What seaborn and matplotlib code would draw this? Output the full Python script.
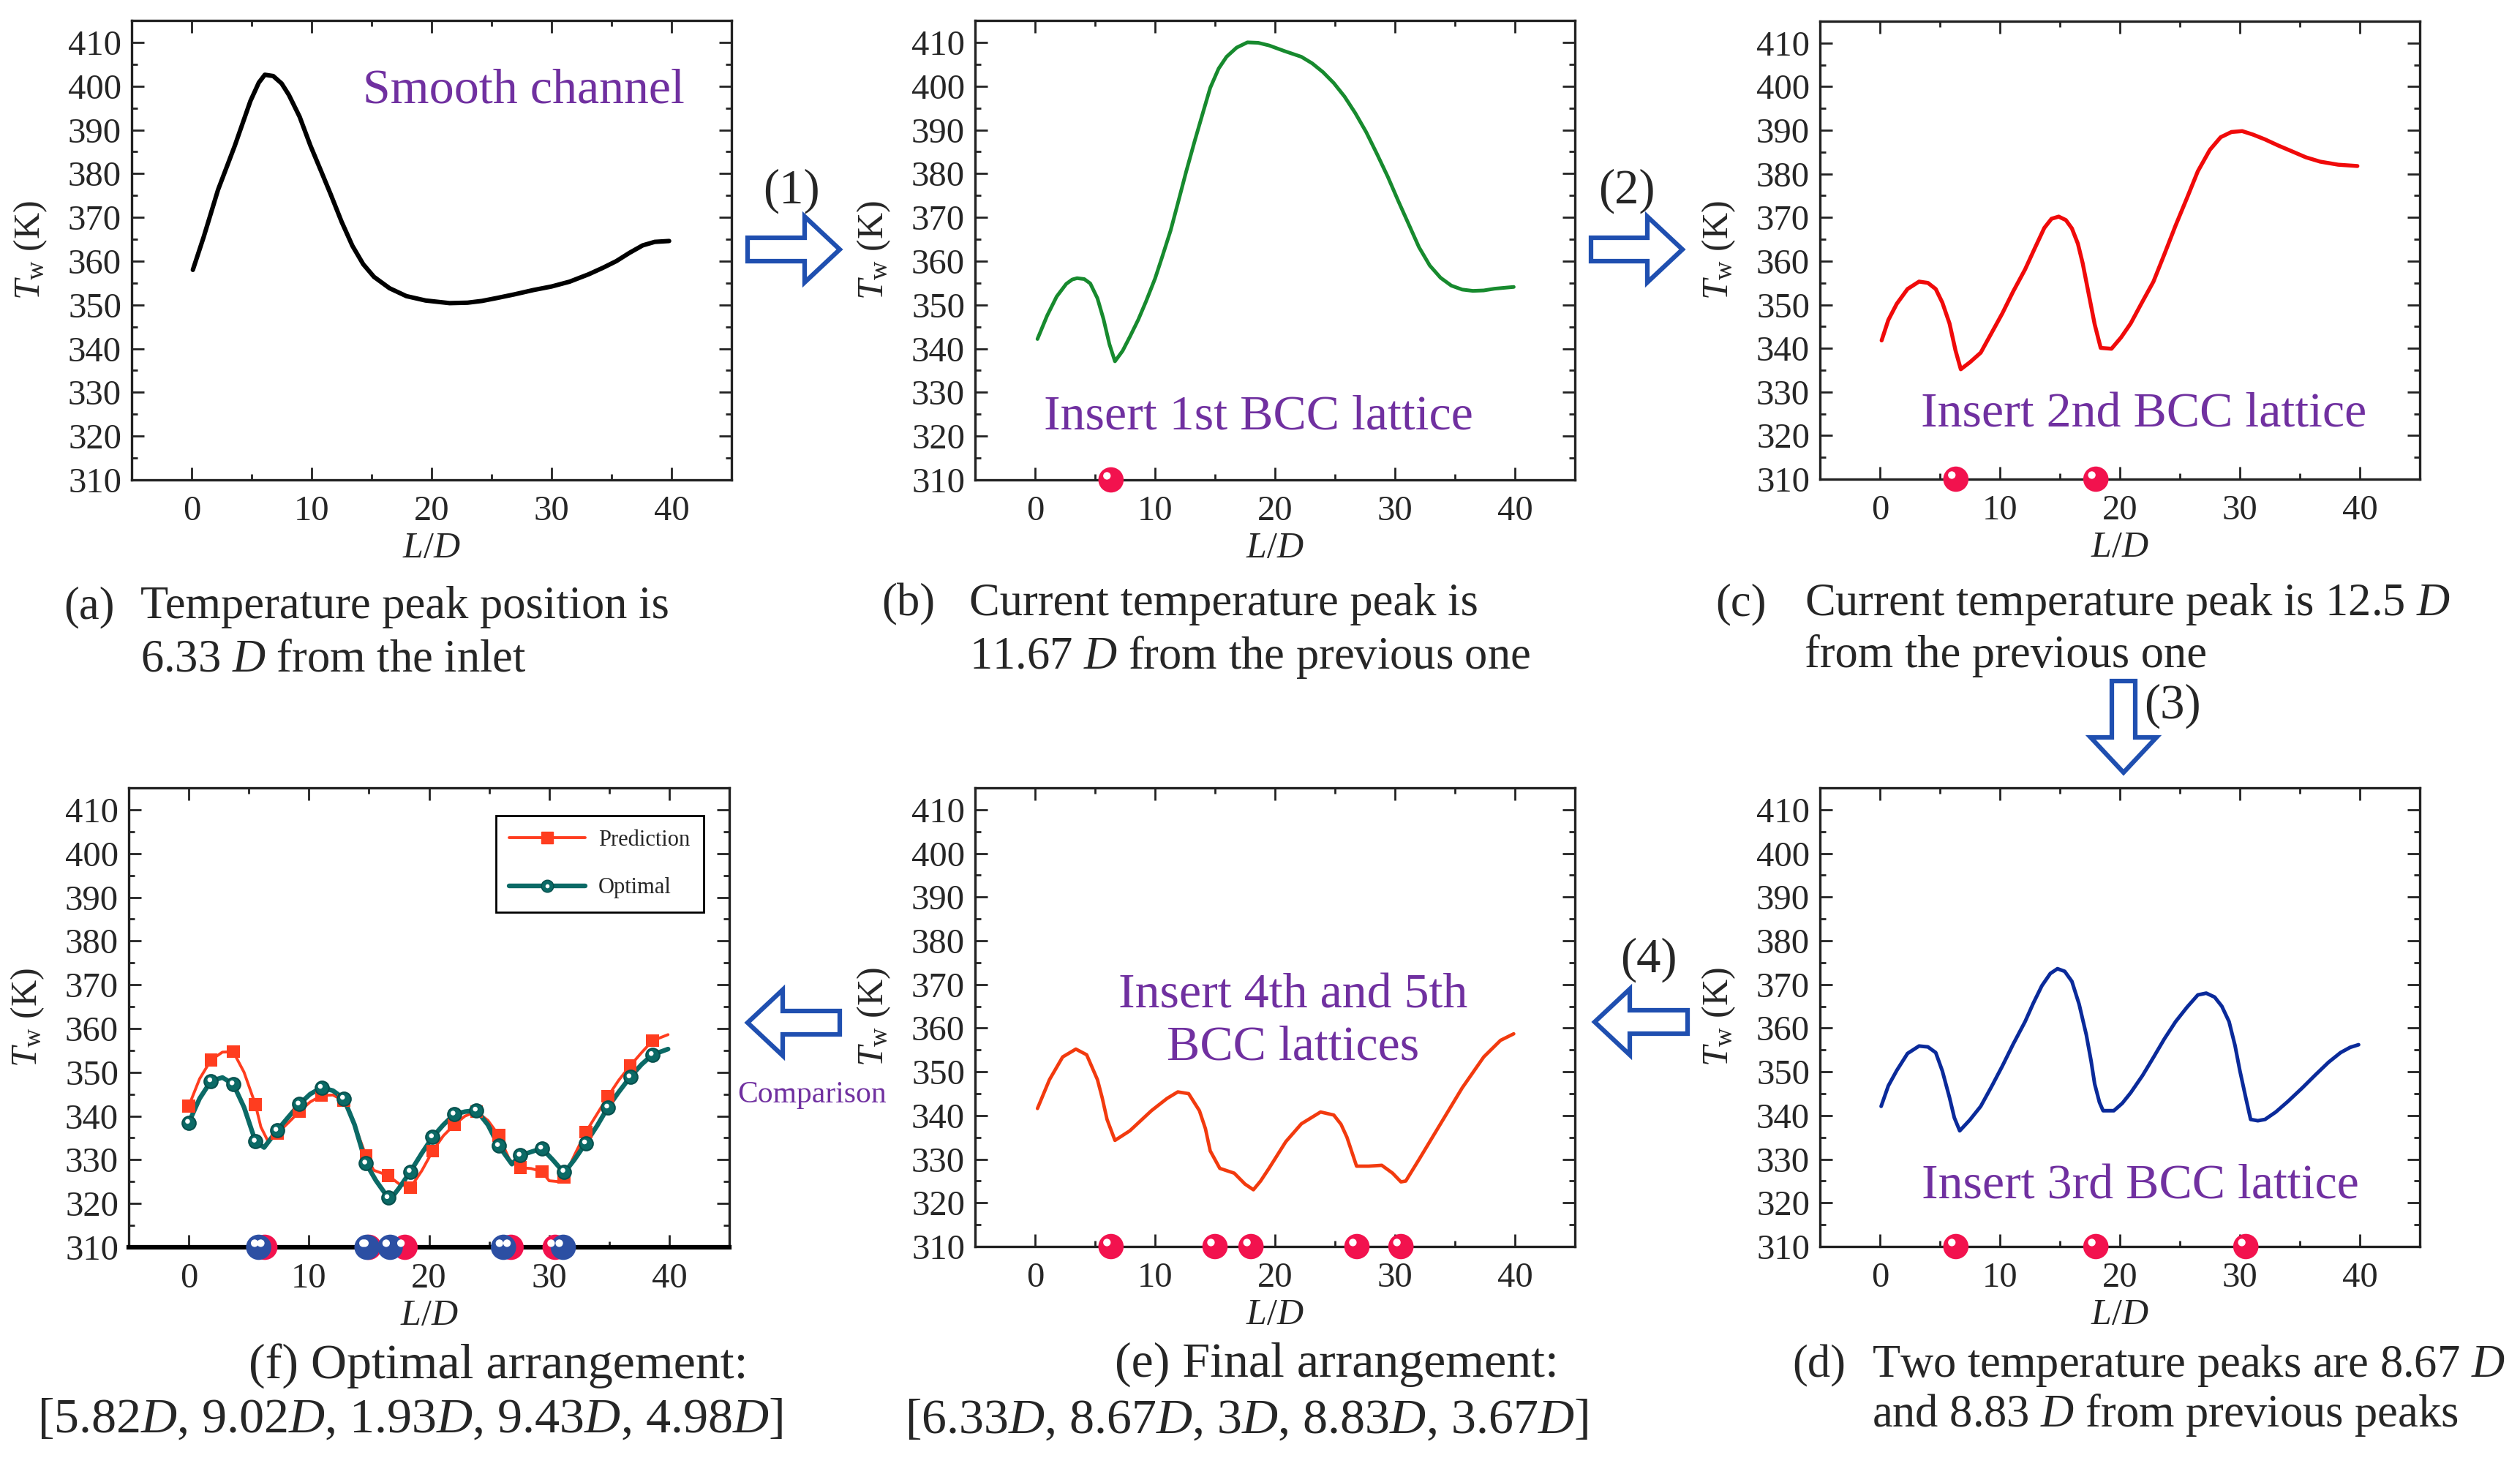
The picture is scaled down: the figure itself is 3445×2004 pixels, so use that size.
import numpy as np
import pandas as pd
import matplotlib
matplotlib.use("Agg")
import matplotlib.pyplot as plt
import seaborn as sns
from matplotlib.patches import FancyArrow
from matplotlib.lines import Line2D
from matplotlib.ticker import MultipleLocator
from matplotlib.transforms import ScaledTranslation

# ---- data (L/D, wall temperature in K) ----
a_x = [0.1, 1.0, 2.2, 3.6, 4.9, 5.6, 6.1, 6.8, 7.5, 8.1, 9.0, 9.9, 10.8, 11.6, 12.5, 13.4,
       14.3, 15.2, 16.5, 17.9, 19.5, 21.5, 23.0, 24.2, 25.5, 26.9, 28.5, 30.0, 31.5, 33.1,
       34.3, 35.4, 36.5, 37.6, 38.6, 39.8]
a_T = [358.0, 365.5, 376.3, 386.4, 396.6, 400.8, 402.6, 402.3, 400.6, 398.0, 393.0, 386.4,
       380.5, 375.2, 369.0, 363.5, 359.3, 356.4, 353.8, 352.0, 351.0, 350.4, 350.5, 350.9,
       351.6, 352.4, 353.4, 354.2, 355.3, 357.0, 358.5, 360.0, 361.9, 363.6, 364.4, 364.6]

b_x = [0.2, 1.0, 1.8, 2.6, 3.1, 3.5, 4.1, 4.6, 5.2, 5.7, 6.2, 6.66, 7.3, 7.9, 8.6, 9.25, 10.0,
       10.6, 11.3, 11.9, 12.6, 13.3, 14.0, 14.6, 15.3, 15.96, 16.8, 17.7, 18.6, 19.5, 20.8,
       22.2, 23.1, 24.0, 24.9, 25.8, 26.7, 27.6, 28.5, 29.4, 30.3, 31.2, 32.0, 32.9, 33.8,
       34.7, 35.6, 36.5, 37.4, 38.3, 39.9]
b_T = [342.2, 347.5, 351.9, 354.8, 355.8, 356.1, 355.9, 354.9, 351.5, 346.8, 341.0, 337.1,
       339.5, 342.7, 346.6, 350.8, 356.0, 361.0, 367.0, 373.2, 380.5, 387.4, 394.0, 399.6,
       404.0, 406.7, 408.8, 410.0, 409.9, 409.3, 408.0, 406.7, 405.2, 403.2, 400.7, 397.6,
       393.8, 389.5, 384.5, 379.3, 373.6, 368.1, 363.2, 359.0, 356.2, 354.4, 353.5, 353.2,
       353.3, 353.7, 354.1]

c_x = [0.14, 0.7, 1.4, 2.3, 3.26, 4.0, 4.65, 5.2, 5.8, 6.3, 6.74, 7.5, 8.4, 9.3, 10.2, 11.1,
       12.1, 12.9, 13.7, 14.3, 14.9, 15.5, 16.0, 16.5, 16.9, 17.4, 17.9, 18.4, 19.3, 20.1,
       20.9, 21.8, 22.8, 23.7, 24.65, 25.6, 26.5, 27.5, 28.4, 29.3, 30.2, 31.1, 32.1, 33.2,
       34.4, 35.5, 36.7, 38.2, 39.8]
c_T = [341.8, 346.5, 350.2, 353.6, 355.3, 355.0, 353.6, 350.5, 345.7, 339.5, 335.2, 336.8,
       339.0, 343.5, 348.0, 353.0, 358.1, 362.9, 367.6, 369.7, 370.2, 369.4, 367.5, 364.0,
       359.5, 352.5, 345.5, 340.1, 339.9, 342.5, 345.7, 350.3, 355.3, 361.5, 368.2, 374.5,
       380.6, 385.5, 388.4, 389.6, 389.8, 389.0, 387.9, 386.5, 385.1, 383.8, 382.8, 382.1,
       381.8]

d_x = [0.1, 0.7, 1.4, 2.3, 3.26, 4.0, 4.65, 5.2, 5.8, 6.2, 6.65, 7.5, 8.4, 9.3, 10.2, 11.1,
       12.1, 12.8, 13.5, 14.2, 14.8, 15.4, 16.0, 16.6, 17.2, 17.6, 17.9, 18.3, 18.6, 19.5,
       20.2, 20.9, 21.9, 22.8, 23.7, 24.65, 25.6, 26.5, 27.2, 27.9, 28.5, 29.1, 29.6, 30.0,
       30.5, 30.9, 31.5, 32.1, 33.0, 34.0, 35.2, 36.3, 37.4, 38.4, 39.2, 39.9]
d_T = [342.1, 346.8, 350.3, 354.2, 355.9, 355.7, 354.4, 350.2, 344.1, 339.5, 336.5, 339.0,
       342.1, 346.6, 351.3, 356.3, 361.5, 365.8, 369.7, 372.5, 373.6, 373.0, 370.7, 365.5,
       358.5, 352.5, 347.2, 343.0, 341.1, 341.1, 342.8, 345.2, 349.2, 353.3, 357.5, 361.5,
       364.8, 367.6, 368.0, 367.1, 365.0, 361.5, 356.0, 350.3, 344.0, 339.1, 338.8, 339.1,
       340.8, 343.2, 346.3, 349.3, 352.2, 354.4, 355.6, 356.2]

e_x = [0.2, 1.2, 2.3, 3.4, 4.3, 5.2, 5.6, 6.0, 6.66, 7.9, 9.7, 11.0, 11.9, 12.8, 13.7, 14.2,
       14.6, 15.4, 16.6, 17.5, 18.2, 18.8, 19.5, 20.9, 22.2, 23.8, 24.9, 25.5, 26.0, 26.8,
       27.8, 28.9, 29.8, 30.5, 30.9, 32.0, 33.8, 35.6, 37.4, 38.8, 39.9]
e_T = [341.6, 348.2, 353.4, 355.2, 353.9, 348.2, 344.0, 339.1, 334.3, 336.5, 341.1, 343.9,
       345.4, 345.0, 341.1, 337.0, 331.9, 327.9, 326.8, 324.3, 323.0, 325.0, 327.9, 334.0,
       338.1, 340.8, 340.1, 338.0, 335.0, 328.4, 328.4, 328.6, 326.8, 324.8, 325.0, 329.9,
       338.1, 346.3, 353.4, 357.2, 358.7]

# (f) sampled points (markers) and the curves through them
f_mx = [0.0, 1.85, 3.7, 5.55, 7.35, 9.2, 11.05, 12.9, 14.75, 16.6, 18.45, 20.3, 22.1, 23.95,
        25.8, 27.6, 29.4, 31.25, 33.05, 34.9, 36.75, 38.6]
opt_mT = [338.5, 348.0, 347.3, 334.2, 336.7, 342.7, 346.5, 344.0, 329.2, 321.3, 327.3, 335.2,
          340.4, 341.3, 333.2, 331.0, 332.6, 327.3, 333.8, 342.0, 348.9, 354.0]
pred_mT = [342.3, 352.8, 354.7, 342.6, 336.0, 341.0, 344.7, 343.5, 330.9, 326.4, 323.6, 332.0,
           338.0, 341.0, 335.6, 328.2, 327.3, 326.0, 336.3, 344.5, 351.5, 357.2]

opt_lx = [0.0, 0.9, 1.85, 2.8, 3.7, 4.6, 5.55, 6.27, 7.35, 8.3, 9.2, 10.1, 11.05, 12.0, 12.9,
          13.8, 14.75, 15.57, 16.6, 16.8, 17.5, 18.45, 19.4, 20.3, 21.2, 22.1, 23.0, 23.95,
          24.9, 25.8, 26.9, 27.6, 28.5, 29.4, 30.3, 31.25, 32.1, 33.05, 34.0, 34.9, 35.8,
          36.75, 37.7, 38.6, 39.9]
opt_lT = [338.5, 344.0, 348.0, 348.8, 347.3, 342.0, 334.2, 332.8, 336.7, 339.8, 342.7, 345.0,
          346.5, 345.8, 344.0, 338.0, 329.2, 325.3, 321.3, 321.0, 323.5, 327.3, 331.5, 335.2,
          338.0, 340.4, 341.0, 341.3, 338.0, 333.2, 329.0, 331.0, 331.8, 332.6, 330.0, 327.0,
          330.0, 333.8, 337.8, 342.0, 345.5, 348.9, 351.8, 354.0, 355.3]

pred_lx = [0.0, 0.9, 1.85, 2.8, 3.7, 4.6, 5.55, 6.0, 6.6, 7.35, 8.3, 9.2, 10.1, 11.05, 12.0,
           12.9, 13.8, 14.75, 15.4, 16.6, 17.5, 18.45, 19.4, 20.3, 21.2, 22.1, 23.0, 23.95,
           24.9, 25.8, 26.7, 27.6, 28.5, 29.4, 30.0, 30.8, 31.25, 32.1, 33.05, 34.0, 34.9,
           35.8, 36.75, 37.7, 38.6, 39.9]
pred_lT = [342.3, 348.5, 352.8, 354.6, 354.7, 350.0, 342.6, 337.5, 334.2, 336.0, 338.5, 341.0,
           343.2, 344.7, 344.8, 343.5, 338.0, 330.9, 327.6, 326.4, 324.5, 323.6, 327.5, 332.0,
           335.5, 338.0, 340.0, 341.0, 339.0, 335.6, 330.0, 328.2, 328.0, 327.3, 325.2, 325.0,
           326.0, 331.0, 336.3, 340.5, 344.5, 348.2, 351.5, 354.5, 357.2, 358.6]

# lattice positions (L/D) sitting on the 310 K baseline
BASE_T = 310
b_lat = [6.33]
c_lat = [6.33, 18.0]
d_lat = [6.33, 18.0, 30.5]
e_lat = [6.33, 15.0, 18.0, 26.83, 30.5]
f_lat_opt = [5.82, 14.84, 16.77, 26.20, 31.18]

# ---- style ----
sns.set_theme(style="ticks")
plt.rcParams["font.family"] = ["Liberation Serif", "DejaVu Serif"]
plt.rcParams["mathtext.fontset"] = "custom"
plt.rcParams["mathtext.rm"] = "Liberation Serif"
plt.rcParams["mathtext.it"] = "Liberation Serif:italic"

PURPLE = "#7030A0"
ARROW_BLUE = "#1F4FB0"
BALL_RED = "#F2124E"
BALL_BLUE = "#2C4FA3"
PRED_C = "#FF3D1F"
OPT_C = "#0B6A66"

W, H = 3445, 2004
fig = plt.figure(figsize=(W / 100, H / 100), dpi=100)
fig.patch.set_facecolor("white")

# background axes in pixel units for captions and arrows
bg = fig.add_axes([0, 0, 1, 1])
bg.set_xlim(0, W)
bg.set_ylim(H, 0)
bg.axis("off")


def px_axes(left, top, right, bottom):
    return fig.add_axes([left / W, 1 - bottom / H, (right - left) / W, (bottom - top) / H])


def style_axes(ax):
    ax.set_xlim(-5, 45)
    ax.set_ylim(310, 415)
    ax.xaxis.set_major_locator(MultipleLocator(10))
    ax.xaxis.set_minor_locator(MultipleLocator(5))
    ax.yaxis.set_major_locator(MultipleLocator(10))
    ax.yaxis.set_minor_locator(MultipleLocator(5))
    ax.tick_params(which="both", direction="in", top=True, right=True,
                   width=2.0, color="#222222")
    ax.tick_params(which="major", length=12, labelsize=35)
    ax.tick_params(which="minor", length=6)
    ax.tick_params(axis="x", pad=15)
    ax.tick_params(axis="y", pad=10)
    for s in ax.spines.values():
        s.set_linewidth(2.4)
        s.set_color("#222222")
    ax.set_xlabel(r"$L/D$", fontsize=36)
    ax.set_ylabel(r"$T_{\rm w}$ (K)", fontsize=36)
    ax.xaxis.set_label_coords(0.5, -0.112)
    ax.yaxis.set_label_coords(-0.138, 0.5)
    ax.grid(False)
    ax.set_facecolor("white")


def draw_balls(ax, xs, color):
    ys = [BASE_T] * len(xs)
    sns.scatterplot(x=xs, y=ys, ax=ax, s=620, color=color, edgecolor="none",
                    clip_on=False, zorder=6, legend=False)
    shift = ax.transData + ScaledTranslation(-4 / 72, 4 / 72, fig.dpi_scale_trans)
    ax.scatter(xs, ys, s=55, color="white", edgecolor="none", transform=shift,
               clip_on=False, zorder=7)


def curve(ax, xs, ys, color, lw):
    df = pd.DataFrame({"L/D": xs, "T": ys})
    sns.lineplot(data=df, x="L/D", y="T", ax=ax, color=color, linewidth=lw,
                 estimator=None, sort=False)


# (a)
ax_a = px_axes(180, 28, 1000, 656)
curve(ax_a, a_x, a_T, "black", 4.4)
style_axes(ax_a)
ax_a.text(27.7, 399.0, "Smooth channel", color=PURPLE, fontsize=49, ha="center", va="center")

# (b)
ax_b = px_axes(1333, 28, 2153, 656)
curve(ax_b, b_x, b_T, "#178A2E", 3.6)
draw_balls(ax_b, b_lat, BALL_RED)
style_axes(ax_b)
ax_b.text(18.6, 324.4, "Insert 1st BCC lattice", color=PURPLE, fontsize=49, ha="center", va="center")

# (c)
ax_c = px_axes(2488, 29, 3308, 655)
curve(ax_c, c_x, c_T, "#F00A0A", 3.9)
draw_balls(ax_c, c_lat, BALL_RED)
style_axes(ax_c)
ax_c.text(22.0, 324.7, "Insert 2nd BCC lattice", color=PURPLE, fontsize=49, ha="center", va="center")

# (d)
ax_d = px_axes(2488, 1077, 3308, 1704)
curve(ax_d, d_x, d_T, "#0A2A9A", 3.6)
draw_balls(ax_d, d_lat, BALL_RED)
style_axes(ax_d)
ax_d.text(21.7, 323.8, "Insert 3rd BCC lattice", color=PURPLE, fontsize=49, ha="center", va="center")

# (e)
ax_e = px_axes(1333, 1077, 2153, 1704)
curve(ax_e, e_x, e_T, "#F23A0E", 3.4)
draw_balls(ax_e, e_lat, BALL_RED)
style_axes(ax_e)
ax_e.text(21.5, 361.5, "Insert 4th and 5th\nBCC lattices", color=PURPLE, fontsize=49,
          ha="center", va="center", linespacing=1.2)

# (f)
ax_f = px_axes(176, 1077, 997, 1705)
curve(ax_f, pred_lx, pred_lT, PRED_C, 2.8)
sns.scatterplot(x=f_mx, y=pred_mT, ax=ax_f, marker="s", s=160, color=PRED_C,
                edgecolor="none", zorder=3, legend=False)
curve(ax_f, opt_lx, opt_lT, OPT_C, 4.6)
sns.scatterplot(x=f_mx, y=opt_mT, ax=ax_f, marker="o", s=180, color=OPT_C,
                edgecolor="#07504D", linewidth=1.5, zorder=4, legend=False)
hl = ax_f.transData + ScaledTranslation(-1.2 / 72, 1.2 / 72, fig.dpi_scale_trans)
ax_f.scatter(f_mx, opt_mT, s=22, color="white", edgecolor="none", transform=hl, zorder=5)
draw_balls(ax_f, e_lat, BALL_RED)
draw_balls(ax_f, f_lat_opt, BALL_BLUE)
style_axes(ax_f)
ax_f.spines["bottom"].set_linewidth(4.5)
ax_f.spines["bottom"].set_color("black")

pred_h = Line2D([], [], color=PRED_C, lw=2.8, marker="s", markersize=12,
                markerfacecolor=PRED_C, markeredgecolor=PRED_C)
opt_h = (Line2D([], [], color=OPT_C, lw=4.6, marker="o", markersize=12,
                markerfacecolor=OPT_C, markeredgecolor="#07504D"),
         Line2D([], [], ls="none", marker="o", markersize=4,
                markerfacecolor="white", markeredgecolor="none"))
leg = ax_f.legend([pred_h, opt_h], ["Prediction", "Optimal"], loc="upper right",
                  bbox_to_anchor=(0.957, 0.939), fontsize=22, frameon=True, fancybox=False,
                  framealpha=1, edgecolor="black", handlelength=3.4, handletextpad=0.6,
                  borderpad=0.6, labelspacing=1.2, borderaxespad=0)
leg.get_frame().set_linewidth(2.0)

# ---- arrows between panels ----
arrow_kw = dict(width=32, head_width=90, head_length=48, length_includes_head=True,
                facecolor="white", edgecolor=ARROW_BLUE, linewidth=4.5, zorder=2)
bg.add_patch(FancyArrow(1022, 341, 126, 0, **arrow_kw))
bg.add_patch(FancyArrow(2175, 341, 125, 0, **arrow_kw))
bg.add_patch(FancyArrow(2903, 931, 0, 125, **arrow_kw))
bg.add_patch(FancyArrow(2307, 1397, -127, 0, **arrow_kw))
bg.add_patch(FancyArrow(1148, 1398, -126, 0, **arrow_kw))

bg.text(1082, 261, "(1)", fontsize=48, ha="center", va="center")
bg.text(2224, 261, "(2)", fontsize=48, ha="center", va="center")
bg.text(2970, 965, "(3)", fontsize=48, ha="center", va="center")
bg.text(2254, 1312, "(4)", fontsize=48, ha="center", va="center")
bg.text(1110, 1497, "Comparison", fontsize=30, color=PURPLE, ha="center", va="center")

# ---- captions ----
cap = dict(fontsize=45, va="center")
bg.text(87, 830, "(a)", ha="left", **cap)
bg.text(192, 830, "Temperature peak position is", ha="left", **cap)
bg.text(192, 902, r"6.33 $D$ from the inlet", ha="left", **cap)

bg.text(1205, 826, "(b)", ha="left", **cap)
bg.text(1325, 826, "Current temperature peak is", ha="left", **cap)
bg.text(1325, 898, r"11.67 $D$ from the previous one", ha="left", **cap)

bg.text(2345, 826, "(c)", ha="left", **cap)
bg.text(2467, 826, r"Current temperature peak is 12.5 $D$", ha="left", **cap)
bg.text(2467, 897, "from the previous one", ha="left", **cap)

bg.text(2450, 1867, "(d)", ha="left", **cap)
bg.text(2559, 1867, r"Two temperature peaks are 8.67 $D$", ha="left", **cap)
bg.text(2559, 1935, r"and 8.83 $D$ from previous peaks", ha="left", **cap)

cap2 = dict(fontsize=49, va="center")
bg.text(1524, 1865, "(e) Final arrangement:", ha="left", **cap2)
bg.text(1704, 1942, r"[6.33$D$, 8.67$D$, 3$D$, 8.83$D$, 3.67$D$]", ha="center", **cap2)
bg.text(340, 1868, "(f) Optimal arrangement:", ha="left", **cap2)
bg.text(560, 1941, r"[5.82$D$, 9.02$D$, 1.93$D$, 9.43$D$, 4.98$D$]", ha="center", **cap2)

fig.savefig("out.png", dpi=100, facecolor="white")
